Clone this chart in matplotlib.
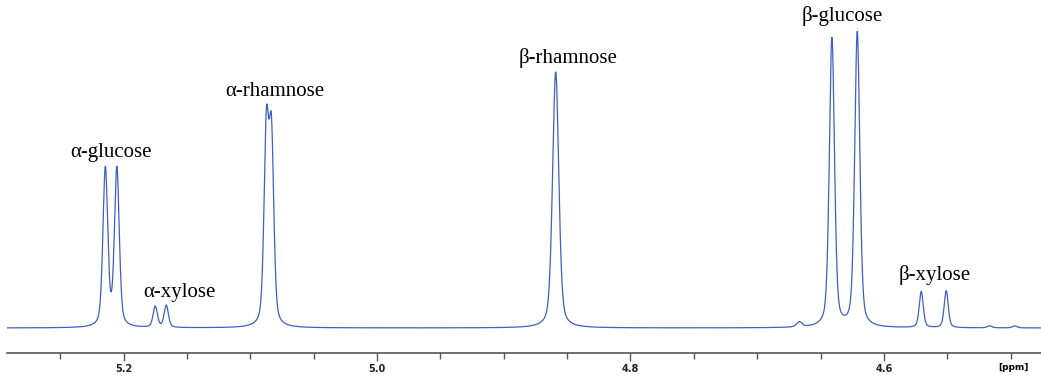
import numpy as np
import matplotlib.pyplot as plt

# peak list (ppm, height, fwhm)
centers = [5.2144, 5.2053, 5.1750, 5.1663, 5.0873, 5.0833, 4.8590,
           4.6667, 4.6410, 4.6210, 4.5705, 4.5508, 4.5166, 4.4968]
heights = [158, 158, 21, 22, 192, 183, 256, 5, 289, 295, 36, 37, 2, 2]
widths = [0.0045, 0.0045, 0.0040, 0.0040, 0.0044, 0.0044, 0.0058,
          0.0050, 0.0048, 0.0048, 0.0038, 0.0038, 0.0045, 0.0045]
eta = 0.4  # lorentzian fraction of the line shape

labels = ['α-glucose', 'α-xylose', 'α-rhamnose', 'β-rhamnose', 'β-glucose', 'β-xylose']
label_ppm = [5.2100, 5.1560, 5.0810, 4.8490, 4.6330, 4.5600]
label_y = [175, 36, 237, 270, 312, 53]

ppm = np.linspace(5.292, 4.476, 8000)
spec = np.zeros_like(ppm)
for c, h, w in zip(centers, heights, widths):
    r = (ppm - c) / (w / 2)
    spec += h * (eta / (1 + r ** 2) + (1 - eta) * np.exp(-np.log(2) * r ** 2))

fig = plt.figure(figsize=(10.41, 3.78), dpi=100)
ax = fig.add_axes([7 / 1041, 25 / 378, 1 - 7 / 1041, 353 / 378])
ax.plot(ppm, spec, color='#3f5fc2', lw=0.9)
ax.set_xlim(5.292, 4.476)
ax.set_ylim(-25, 328)

for s in ['left', 'top', 'right']:
    ax.spines[s].set_visible(False)
ax.spines['bottom'].set_color('#555555')
ax.spines['bottom'].set_linewidth(1.2)
ax.set_yticks([])
ax.set_xticks([5.2, 5.0, 4.8, 4.6])
ax.set_xticklabels(['5.2', '5.0', '4.8', '4.6'], fontsize=7, fontweight='bold', color='#222222')
ax.set_xticks(np.arange(4.50, 5.30, 0.05), minor=True)
ax.tick_params(axis='x', which='major', length=6, width=1, color='#555555', pad=2)
ax.tick_params(axis='x', which='minor', length=4, width=1, color='#555555')

for t, x, y in zip(labels, label_ppm, label_y):
    ax.text(x, y, t, ha='center', va='center', fontsize=15, family='Liberation Serif')

fig.text(1013 / 1041, 1 - 368 / 378, '[ppm]', ha='center', va='center', fontsize=6.5, fontweight='bold')

fig.savefig('out.png', dpi=100)
